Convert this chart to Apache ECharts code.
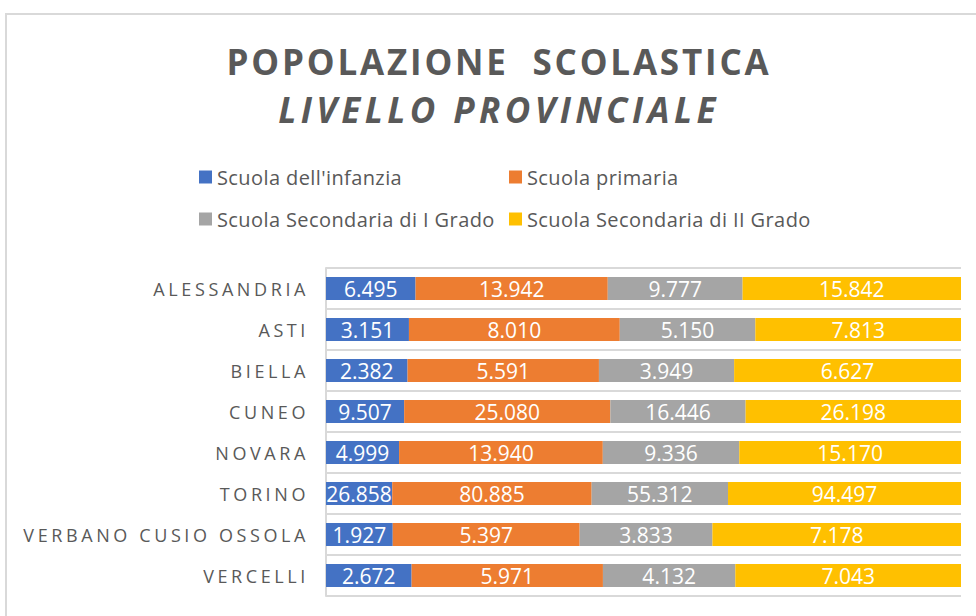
<!DOCTYPE html>
<html>
<head>
<meta charset="utf-8">
<script src="https://cdn.jsdelivr.net/npm/echarts@6/dist/echarts.min.js"></script>
<style>
  html, body { margin: 0; padding: 0; background: #fff; }
  #chart { width: 976px; height: 616px; }
  /* spaced-out lettering of the title and the province names */
  #chart text[style*="35px"] { letter-spacing: 2.8px; }
  #chart text[style*="35px"][style*="italic"] { letter-spacing: 4.4px; }
  #chart text[style*="18px"] { letter-spacing: 3.6px; }
  #chart text[style*="20px"] { letter-spacing: 0.4px; }
</style>
</head>
<body>
<div id="chart"></div>
<script>
// School population per province (Piedmont)
const provinces = ['ALESSANDRIA', 'ASTI', 'BIELLA', 'CUNEO', 'NOVARA', 'TORINO', 'VERBANO CUSIO OSSOLA', 'VERCELLI'];
const seriesNames = ["Scuola dell'infanzia", 'Scuola primaria', 'Scuola Secondaria di I Grado', 'Scuola Secondaria di II Grado'];
const infanzia = [6495, 3151, 2382, 9507, 4999, 26858, 1927, 2672];
const primaria = [13942, 8010, 5591, 25080, 13940, 80885, 5397, 5971];
const secondariaI = [9777, 5150, 3949, 16446, 9336, 55312, 3833, 4132];
const secondariaII = [15842, 7813, 6627, 26198, 15170, 94497, 7178, 7043];

const colors = ['#4472C4', '#ED7D31', '#A5A5A5', '#FFC000'];
const textGrey = '#595959';
const lineGrey = '#D9D9D9';
const font = "'Open Sans', sans-serif";

const allValues = [infanzia, primaria, secondariaI, secondariaII];
// totals per province, used for the 100% stacking
const totals = provinces.map((p, i) => allValues.reduce((s, arr) => s + arr[i], 0));

function fmt(n) {
    return String(n).replace(/\B(?=(\d{3})+(?!\d))/g, '.');
}

const series = allValues.map((values, k) => {
    return {
        name: seriesNames[k],
        type: 'bar',
        stack: 'total',
        barWidth: 23,
        itemStyle: { color: colors[k] },
        label: {
            show: true,
            position: 'inside',
            color: '#fff',
            fontSize: 21,
            fontFamily: font,
            formatter: p => fmt(values[p.dataIndex])
        },
        data: values.map((v, i) => v / totals[i])
    };
});

// legend laid out 2 x 2 as in the original
const legendPos = [[194, 162], [504, 162], [194, 204], [504, 204]];
const legend = seriesNames.map((name, k) => {
    return {
        data: [name],
        left: legendPos[k][0],
        top: legendPos[k][1],
        icon: 'rect',
        itemWidth: 13,
        itemHeight: 13,
        selectedMode: false,
        textStyle: { fontSize: 20, color: textGrey, fontFamily: font }
    };
});

var myChart = echarts.init(document.getElementById('chart'), null, { renderer: 'svg' });

var option = {
    animation: false,
    backgroundColor: '#fff',
    title: {
        text: 'POPOLAZIONE  SCOLASTICA',
        subtext: 'LIVELLO PROVINCIALE',
        left: 494,
        top: 39,
        textAlign: 'center',
        itemGap: 13,
        textStyle: { fontSize: 35, fontWeight: 'bold', color: textGrey, fontFamily: font },
        subtextStyle: { fontSize: 35, fontWeight: 'bold', fontStyle: 'italic', color: textGrey, fontFamily: font }
    },
    graphic: [{
        type: 'rect',
        shape: { x: 6, y: 14, width: 1000, height: 700 },
        style: { fill: 'none', stroke: lineGrey, lineWidth: 2 },
        silent: true
    }],
    legend: legend,
    grid: { left: 326, right: 15, top: 268, bottom: 20 },
    xAxis: {
        type: 'value',
        min: 0,
        max: 1,
        show: false
    },
    yAxis: {
        type: 'category',
        data: provinces,
        inverse: true,
        axisTick: { show: false },
        axisLine: { show: true, lineStyle: { color: lineGrey, width: 2 } },
        splitLine: { show: true, lineStyle: { color: lineGrey, width: 2 } },
        axisLabel: { fontSize: 18, color: textGrey, fontFamily: font, margin: 17 }
    },
    series: series
};

myChart.setOption(option);
</script>
</body>
</html>
